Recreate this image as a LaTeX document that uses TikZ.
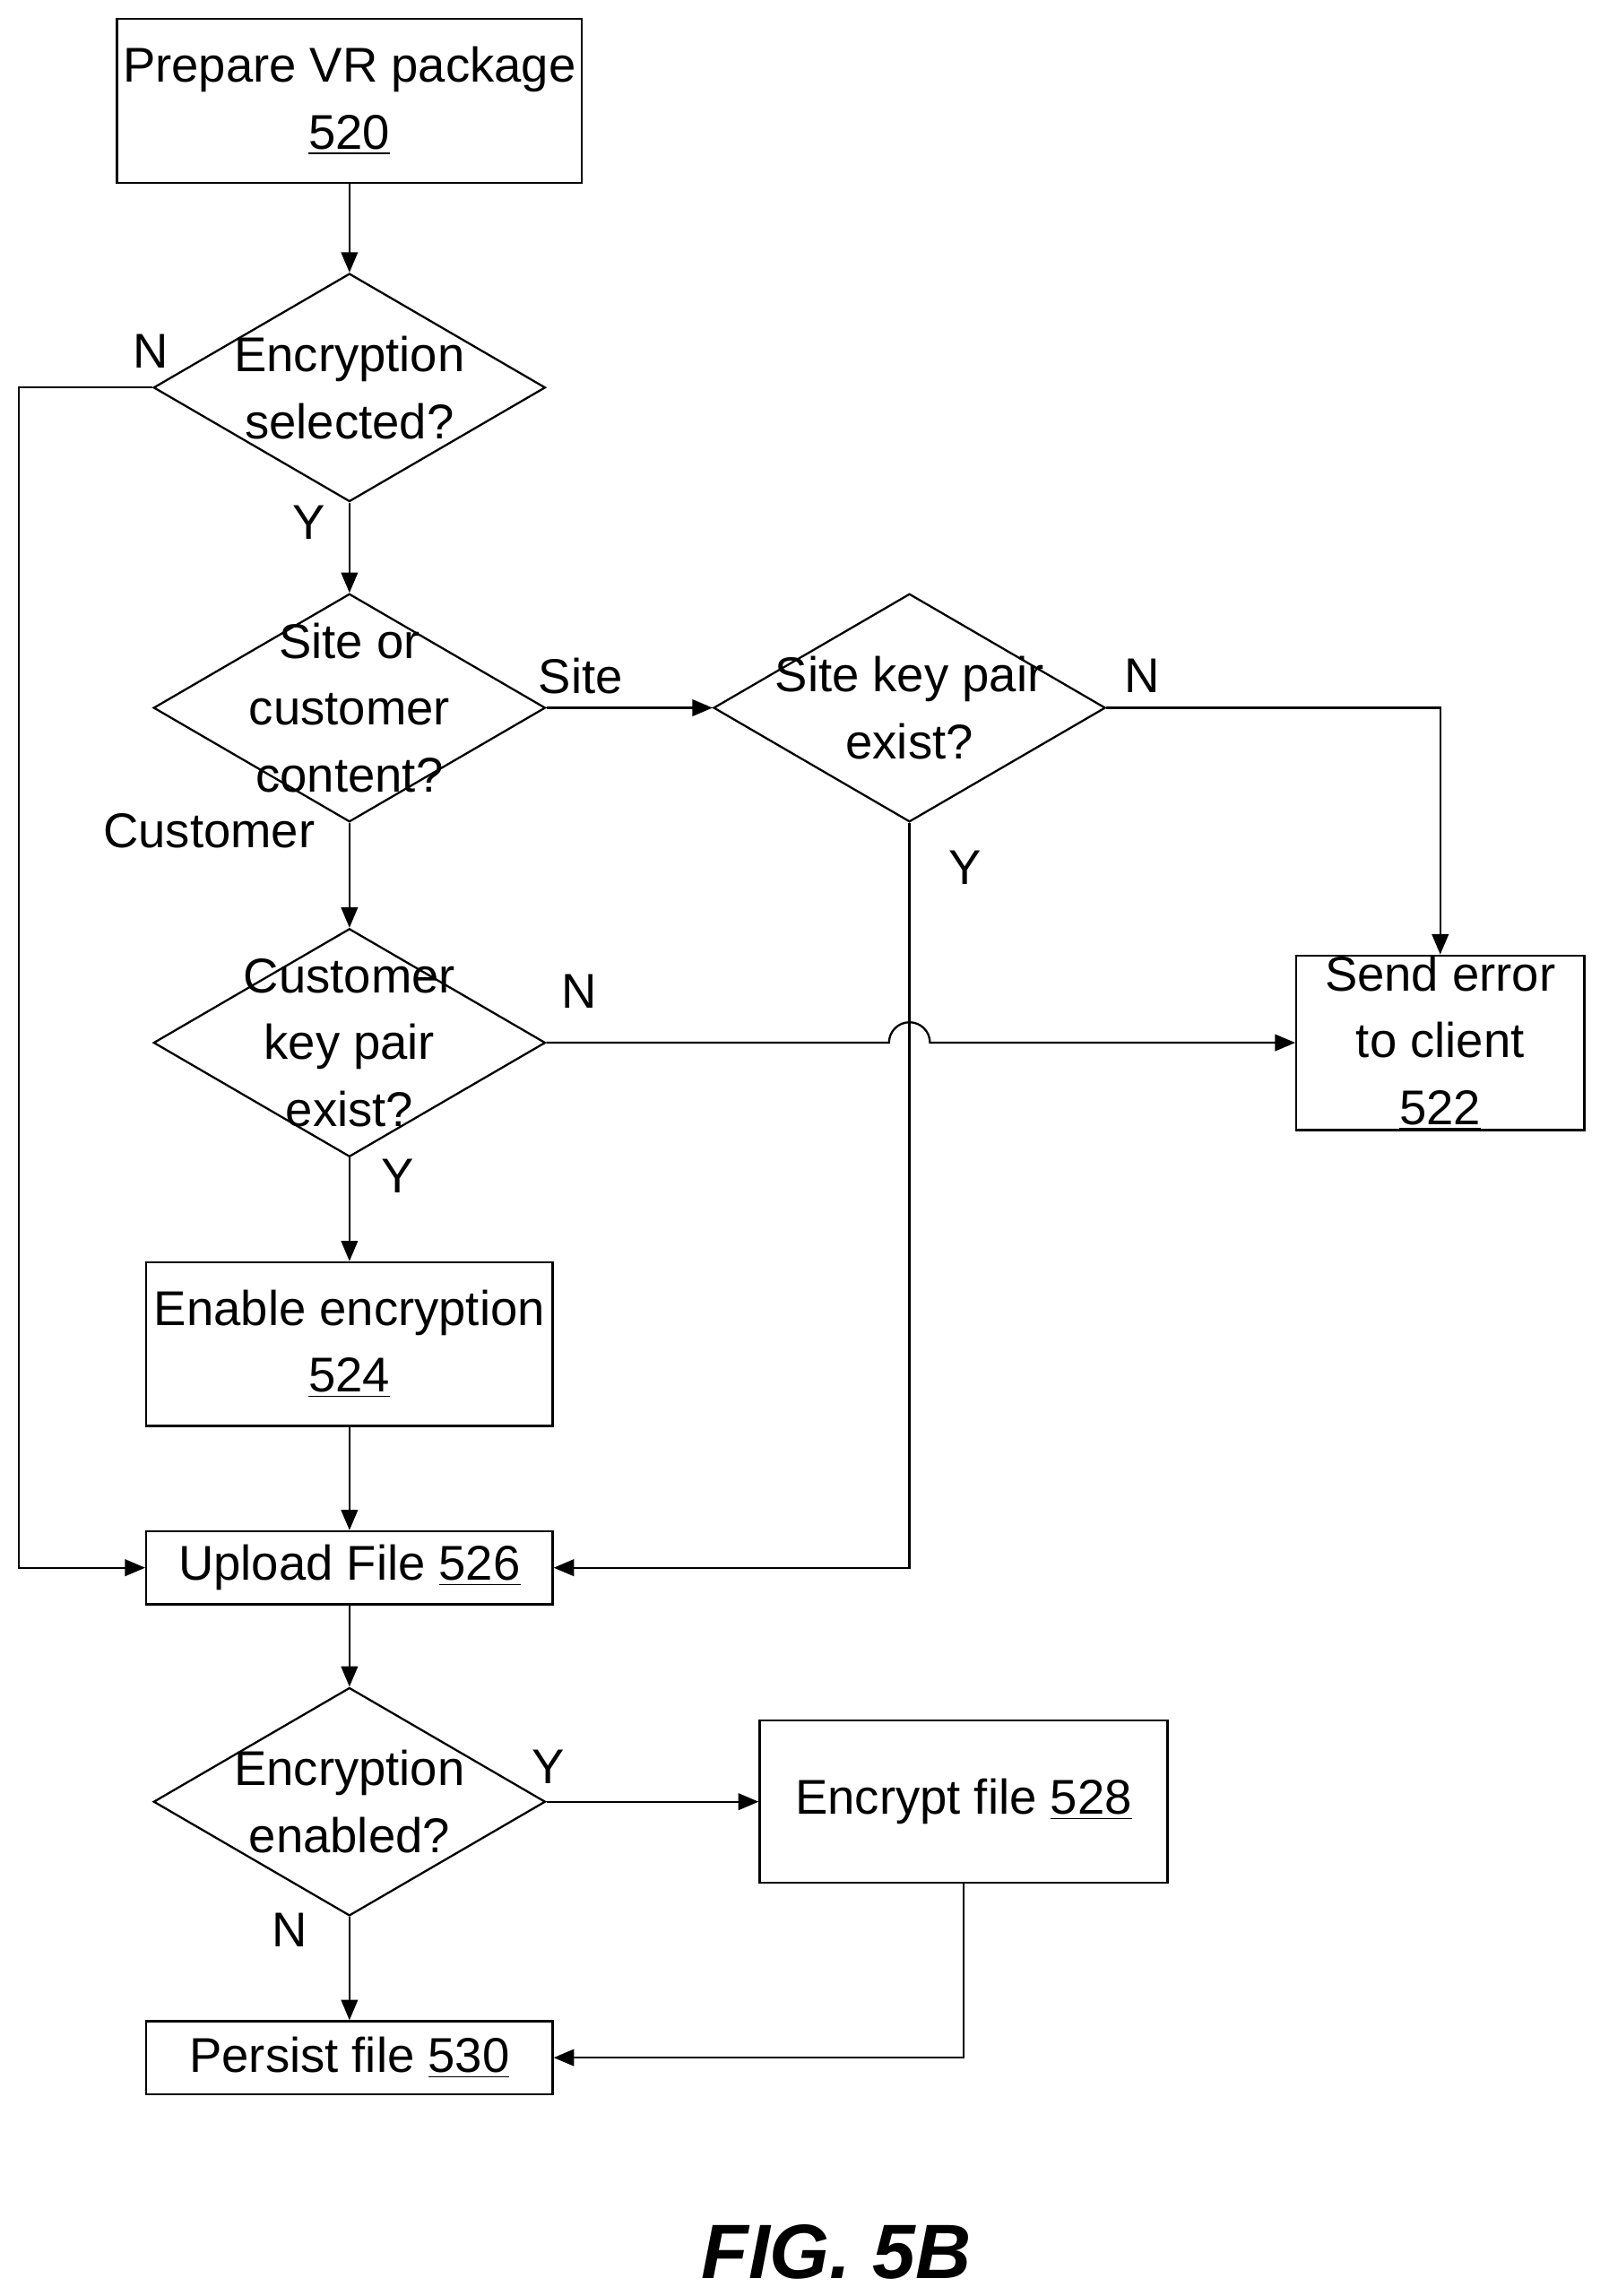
\documentclass[tikz,border=0pt]{standalone}
\usepackage{fontspec}
\setmainfont{Liberation Sans}
\usetikzlibrary{arrows, shapes.geometric, positioning}
\tikzset{
  procbox/.style={draw, thick, align=center, inner sep=0pt},
  decision/.style={draw, thick, diamond, minimum width=5.36cm, minimum height=3.12cm, inner sep=0pt},
  lbl/.style={font=\fontsize{19}{24}\selectfont}
}
\begin{document}
\begin{tikzpicture}[>=triangle 45, thick, font=\fontsize{19}{26}\selectfont]
\useasboundingbox (0,0) rectangle (22,-31.4);
\node[procbox, minimum width=6.36cm, minimum height=2.24cm] (prep) at (4.78,-1.38) {Prepare VR package\\\underline{520}};
\node[decision, label={[align=center]center:Encryption\\selected?}] (encsel) at (4.78,-5.3) {};
\node[decision, label={[align=center]center:Site or\\customer\\content?}] (sitecust) at (4.78,-9.68) {};
\node[decision, label={[align=center]center:Site key pair\\exist?}] (sitekey) at (12.44,-9.68) {};
\node[decision, label={[align=center]center:Customer\\key pair\\exist?}] (custkey) at (4.78,-14.26) {};
\node[procbox, minimum width=3.94cm, minimum height=2.24cm] (err) at (19.7,-14.26) {Send error\\to client\\\underline{522}};
\node[procbox, minimum width=5.56cm, minimum height=2.24cm] (enable) at (4.78,-18.38) {Enable encryption\\\underline{524}};
\node[procbox, minimum width=5.56cm, minimum height=1cm] (upload) at (4.78,-21.44) {Upload File \underline{526}};
\node[decision, label={[align=center]center:Encryption\\enabled?}] (encen) at (4.78,-24.64) {};
\node[procbox, minimum width=5.58cm, minimum height=2.22cm] (encrypt) at (13.18,-24.64) {Encrypt file \underline{528}};
\node[procbox, minimum width=5.56cm, minimum height=1cm] (persist) at (4.78,-28.14) {Persist file \underline{530}};
\coordinate (nleft) at (0.26,-5.3);
\coordinate (hop) at (12.44,-14.26);
% connectors
\draw[->] (prep) -- (encsel);
\draw[->] (encsel.west) -- (nleft) |- (upload.west);
\draw[->] (encsel) -- (sitecust);
\draw[->] (sitecust.east) -- (sitekey.west);
\draw[->] (sitecust) -- (custkey);
\draw[->] (sitekey.east) -| (err.north);
\draw[->] (sitekey.south) |- (upload.east);
\draw[->] (custkey.east) -- ([xshift=-0.28cm]hop) arc[start angle=180, end angle=0, radius=0.28cm] -- (err.west);
\draw[->] (custkey) -- (enable);
\draw[->] (enable) -- (upload);
\draw[->] (upload) -- (encen);
\draw[->] (encen.east) -- (encrypt.west);
\draw[->] (encen) -- (persist);
\draw[->] (encrypt.south) |- (persist.east);
% labels
\node[lbl] (lN1) at (2.06,-4.8) {N};
\node[lbl] (lY1) at (4.22,-7.14) {Y};
\node[lbl] (lSite) at (7.94,-9.24) {Site};
\node[lbl] (lCust) at (2.86,-11.36) {Customer};
\node[lbl] (lN2) at (15.62,-9.24) {N};
\node[lbl] (lY2) at (13.2,-11.86) {Y};
\node[lbl] (lN3) at (7.92,-13.56) {N};
\node[lbl] (lY3) at (5.44,-16.08) {Y};
\node[lbl] (lY4) at (7.5,-24.16) {Y};
\node[lbl] (lN4) at (3.96,-26.4) {N};
\node[font=\fontsize{30}{36}\selectfont\bfseries\itshape] (fig) at (11.44,-30.8) {FIG. 5B};
\end{tikzpicture}
\end{document}
